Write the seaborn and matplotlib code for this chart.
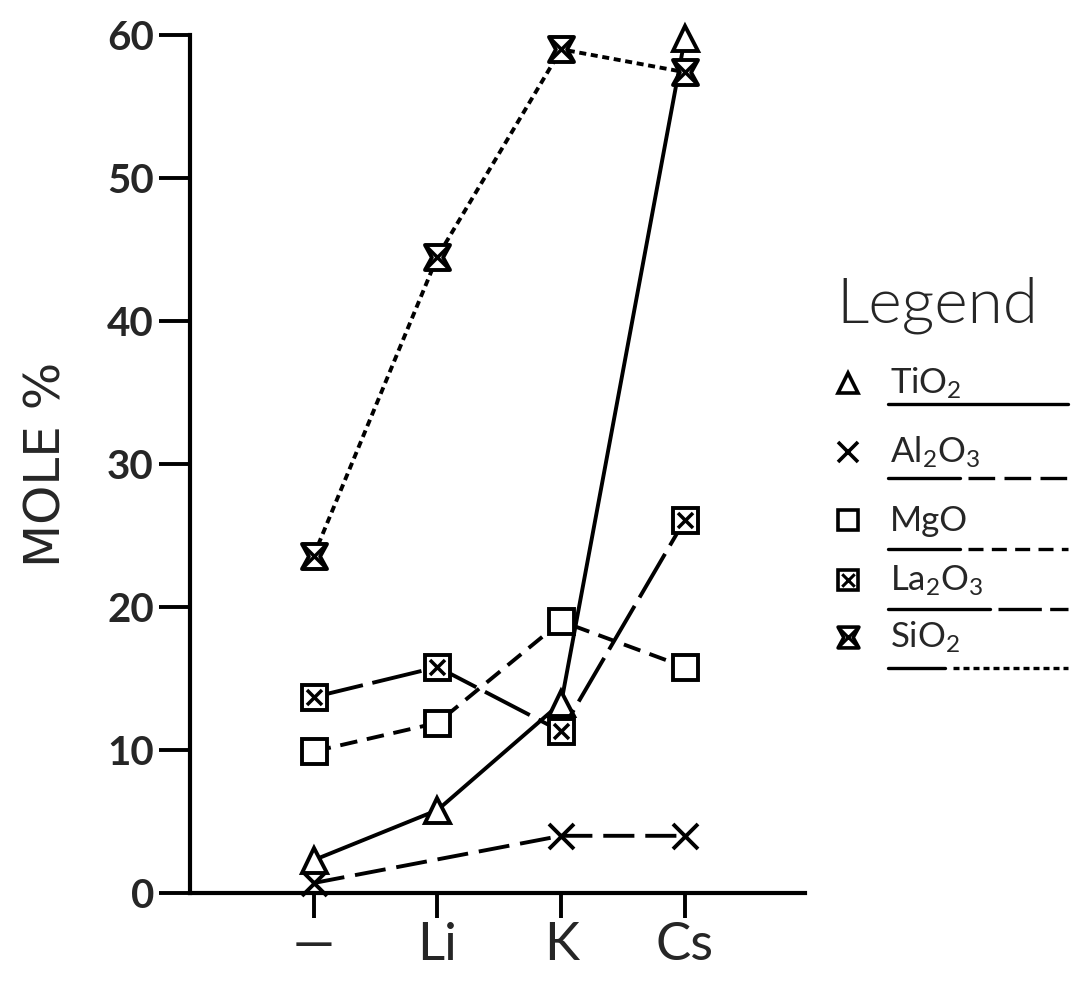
import matplotlib
matplotlib.use('Agg')
import matplotlib.pyplot as plt
import numpy as np
import pandas as pd
import seaborn as sns
from matplotlib.path import Path
from matplotlib import font_manager

categories = ['—', 'Li', 'K', 'Cs']
oxides = ['TiO2', 'Al2O3', 'MgO', 'La2O3', 'SiO2']
oxide_labels = ['TiO$_2$', 'Al$_2$O$_3$', 'MgO', 'La$_2$O$_3$', 'SiO$_2$']
tio2 = [2.3, 5.8, 13.3, 59.8]
al2o3 = [0.7, np.nan, 4.0, 4.0]
mgo = [9.9, 11.9, 19.0, 15.8]
la2o3 = [13.7, 15.8, 11.3, 26.1]
sio2 = [23.6, 44.5, 59.0, 57.4]
yticks = [0, 10, 20, 30, 40, 50, 60]

series = dict(zip(oxides, [tio2, al2o3, mgo, la2o3, sio2]))
rows = []
for ox, vals in series.items():
    for i, v in enumerate(vals):
        if not np.isnan(v):
            rows.append({'x': i, 'value': v, 'oxide': ox})
df = pd.DataFrame(rows)

# custom marker shapes
hourglass = Path([(-1, 1), (1, 1), (0.45, 0), (1, -1), (-1, -1), (-0.45, 0), (-1, 1)],
                 [Path.MOVETO] + [Path.LINETO] * 5 + [Path.CLOSEPOLY])
cross = Path([(-1, 1), (1, -1), (1, 1), (-1, -1)],
             [Path.MOVETO, Path.LINETO, Path.MOVETO, Path.LINETO])

markers = {'TiO2': '^', 'Al2O3': 'x', 'MgO': 's', 'La2O3': 's', 'SiO2': hourglass}
dashes = {'TiO2': None, 'Al2O3': (8, 2.8), 'MgO': (4.5, 2.5), 'La2O3': (13, 2.5), 'SiO2': (1.8, 1.2)}

sns.set_style('white')
names = {f.name for f in font_manager.fontManager.ttflist}
tick_font = 'Lato' if 'Lato' in names else 'DejaVu Sans'
narrow = 'Liberation Sans Narrow' if 'Liberation Sans Narrow' in names else 'DejaVu Sans'
plt.rcParams['font.family'] = [tick_font, 'DejaVu Sans']
plt.rcParams['mathtext.fontset'] = 'custom'
plt.rcParams['mathtext.rm'] = tick_font
plt.rcParams['mathtext.default'] = 'rm'

fig = plt.figure(figsize=(10.73, 9.82), dpi=100)
ax = fig.add_axes([190 / 1073, 1 - 893 / 982, 615 / 1073, 858 / 982])

lw = 2.8
ms = 18
for ox in oxides:
    sub = df[df['oxide'] == ox]
    ls = '-' if dashes[ox] is None else (0, dashes[ox])
    sns.lineplot(x=sub['x'], y=sub['value'], marker=markers[ox], linestyle=ls,
                 color='k', lw=lw, markersize=ms, markerfacecolor='w', markeredgecolor='k',
                 markeredgewidth=lw, ax=ax, clip_on=False)
    # inner crosses for La2O3 and SiO2
    if ox in ('La2O3', 'SiO2'):
        size = ms * 0.6 if ox == 'La2O3' else ms
        ax.plot(sub['x'], sub['value'], linestyle='none', marker=cross, markersize=size,
                markerfacecolor='none', markeredgecolor='k', markeredgewidth=lw * 0.9,
                clip_on=False)

ax.set_xlim(-1, 3.97)
ax.set_ylim(0, 60)
ax.set_xticks(range(len(categories)))
ax.set_xticklabels(categories, fontsize=38, family=[tick_font, 'DejaVu Sans'])
ax.set_yticks(yticks)
ax.set_yticklabels([str(t) for t in yticks], fontsize=29, fontweight='bold')
ax.tick_params(axis='both', direction='out', length=22, width=lw, color='k', pad=4,
               bottom=True, left=True)
ax.tick_params(axis='x', length=18, pad=3)
ax.set_xlabel('')
ax.set_ylabel('MOLE %', fontsize=36, family=narrow, labelpad=26)
sns.despine(ax=ax)
for s in ['left', 'bottom']:
    ax.spines[s].set_linewidth(3)
    ax.spines[s].set_color('k')

# hand-drawn style legend on the right
lg = fig.add_axes([0, 0, 1, 1], zorder=-1)
lg.set_xlim(0, 1073)
lg.set_ylim(982, 0)
lg.axis('off')
lg.text(836, 322, 'Legend', fontsize=46, fontweight=350, va='baseline')
row_y = [383, 452, 520, 580, 637]
under_y = [404, 478, 549, 609, 668]
solid_end = [1068, 960, 960, 990, 945]
for ox, lab, y, uy, se in zip(oxides, oxide_labels, row_y, under_y, solid_end):
    m = markers[ox]
    lg.plot([848], [y], linestyle='none', marker=m, markersize=15, markerfacecolor='w',
            markeredgecolor='k', markeredgewidth=2.6)
    if ox in ('La2O3', 'SiO2'):
        lg.plot([848], [y], linestyle='none', marker=cross,
                markersize=9 if ox == 'La2O3' else 15, markerfacecolor='none',
                markeredgecolor='k', markeredgewidth=2.2)
    lg.text(890, y + 11, lab, fontsize=25, va='baseline')
    lg.plot([888, se], [uy, uy], color='k', lw=2.4)
    if se < 1068:
        lg.plot([se + 8, 1068], [uy, uy], color='k', lw=2.4, linestyle=(0, dashes[ox]))

fig.savefig('out.png', dpi=100)
